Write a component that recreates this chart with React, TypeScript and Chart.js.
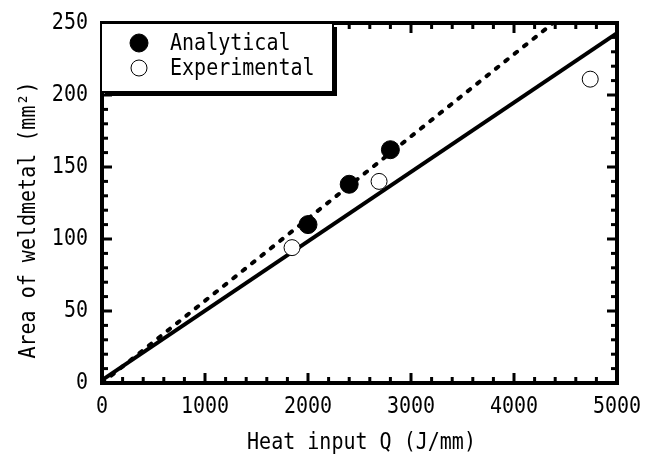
import React, { useEffect, useRef } from "react";
import { Chart, registerables } from "chart.js";
Chart.register(...registerables);

const FONT = "'DejaVu Sans Mono', 'Liberation Mono', monospace";
const SX = 0.87;

const analyticalQ = [2000, 2400, 2800];
const analyticalArea = [110, 138, 162];
const experimentalQ = [1845, 2690, 4740];
const experimentalArea = [94, 140, 211];
const analyticalFitQ = [0, 4380];
const analyticalFitArea = [0, 250];
const experimentalFitQ = [0, 5000];
const experimentalFitArea = [2, 243];
const xTickValues = [0, 1000, 2000, 3000, 4000, 5000];
const yTickValues = [0, 50, 100, 150, 200, 250];
const xMinorStep = 200;
const yMinorStep = 10;
const seriesNames = ["Analytical", "Experimental"];
const xTitle = "Heat input Q (J/mm)";
const yTitle = "Area of weldmetal (mm²)";

const W = 656;
const H = 459;

const toPts = (xs: number[], ys: number[]) => xs.map((x, i) => ({ x, y: ys[i] }));

const drawText = (
  ctx: CanvasRenderingContext2D,
  text: string,
  x: number,
  y: number,
  align: CanvasTextAlign,
  size: number,
  rotate = 0
) => {
  ctx.save();
  ctx.translate(x, y);
  if (rotate) ctx.rotate(rotate);
  ctx.scale(SX, 1);
  ctx.font = `${size}px ${FONT}`;
  ctx.fillStyle = "#000";
  ctx.textAlign = align;
  ctx.textBaseline = "middle";
  ctx.fillText(text, 0, 0);
  ctx.restore();
};

const framePlugin = {
  id: "frameTicks",
  afterDatasetsDraw(chart: any) {
    const { ctx, chartArea: a, scales } = chart;
    const xs = scales.x;
    const ys = scales.y;
    ctx.save();
    ctx.strokeStyle = "#000";
    ctx.lineCap = "butt";
    const line = (x1: number, y1: number, x2: number, y2: number) => {
      ctx.beginPath();
      ctx.moveTo(x1, y1);
      ctx.lineTo(x2, y2);
      ctx.stroke();
    };
    ctx.lineWidth = 3;
    for (let v = xs.min; v <= xs.max + 1e-6; v += xMinorStep) {
      const px = xs.getPixelForValue(v);
      const major = xTickValues.includes(Math.round(v));
      const len = major ? 10 : 6;
      line(px, a.bottom, px, a.bottom - len);
      line(px, a.top, px, a.top + len);
    }
    for (let v = ys.min; v <= ys.max + 1e-6; v += yMinorStep) {
      const py = ys.getPixelForValue(v);
      const major = yTickValues.includes(Math.round(v));
      const len = major ? 10 : 6;
      line(a.left, py, a.left + len, py);
      line(a.right, py, a.right - len, py);
    }
    ctx.lineWidth = 4;
    ctx.strokeRect(a.left, a.top, a.right - a.left, a.bottom - a.top);
    ctx.restore();

    // tick labels
    xTickValues.forEach((v) => {
      drawText(ctx, String(v), xs.getPixelForValue(v), a.bottom + 24, "center", 23);
    });
    yTickValues.forEach((v) => {
      drawText(ctx, String(v), a.left - 14, ys.getPixelForValue(v), "right", 23);
    });
  },
};

const textPlugin = {
  id: "titlesLegend",
  afterDraw(chart: any) {
    const { ctx, chartArea: a } = chart;
    // axis titles
    drawText(ctx, xTitle, (a.left + a.right) / 2 + 2, 443, "center", 23);
    drawText(ctx, yTitle, 29, 220, "center", 23, -Math.PI / 2);

    // legend
    ctx.save();
    const lx = a.left - 1;
    const ly = a.top;
    const lw = 232;
    const lh = 69;
    ctx.fillStyle = "#000";
    ctx.fillRect(lx + 4, ly + 4, lw, lh);
    ctx.fillStyle = "#fff";
    ctx.fillRect(lx, ly, lw, lh);
    ctx.strokeStyle = "#000";
    ctx.lineWidth = 2;
    ctx.strokeRect(lx, ly, lw, lh);
    const ds = chart.data.datasets;
    [0, 1].forEach((di, i) => {
      const d = ds[di];
      const cy = ly + 20 + i * 25;
      const cx = lx + 38;
      ctx.beginPath();
      ctx.arc(cx, cy, d.pointRadius, 0, Math.PI * 2);
      ctx.fillStyle = d.backgroundColor;
      ctx.fill();
      ctx.lineWidth = d.borderWidth;
      ctx.strokeStyle = d.borderColor;
      ctx.stroke();
      drawText(ctx, seriesNames[i], lx + 69, cy + 1, "left", 23);
    });
    ctx.restore();
  },
};

export default function App() {
  const ref = useRef<HTMLCanvasElement | null>(null);
  useEffect(() => {
    document.body.style.margin = "0";
    const canvas = ref.current!;
    const chart = new Chart(canvas, {
      type: "scatter",
      data: {
        datasets: [
          {
            label: seriesNames[0],
            data: toPts(analyticalQ, analyticalArea),
            pointRadius: 9,
            pointHoverRadius: 9,
            backgroundColor: "#000",
            borderColor: "#000",
            borderWidth: 1,
            showLine: false,
            order: 0,
          },
          {
            label: seriesNames[1],
            data: toPts(experimentalQ, experimentalArea),
            pointRadius: 8,
            pointHoverRadius: 8,
            backgroundColor: "#fff",
            borderColor: "#000",
            borderWidth: 1,
            showLine: false,
            order: 0,
          },
          {
            label: "Analytical fit",
            data: toPts(analyticalFitQ, analyticalFitArea),
            showLine: true,
            pointRadius: 0,
            borderColor: "#000",
            borderWidth: 4,
            borderDash: [3, 9],
            borderCapStyle: "round",
            fill: false,
            order: 1,
          },
          {
            label: "Experimental fit",
            data: toPts(experimentalFitQ, experimentalFitArea),
            showLine: true,
            pointRadius: 0,
            borderColor: "#000",
            borderWidth: 4,
            fill: false,
            order: 1,
          },
        ],
      },
      options: {
        responsive: false,
        animation: false,
        devicePixelRatio: 1,
        layout: { padding: { top: 23, right: 39, left: 0, bottom: 0 } },
        plugins: {
          legend: { display: false },
          tooltip: { enabled: false },
          title: { display: false },
        },
        scales: {
          x: {
            type: "linear",
            min: 0,
            max: 5000,
            grid: { display: false, drawTicks: false },
            border: { display: false },
            afterFit: (s: any) => {
              s.height = 76;
            },
            ticks: { display: false },
          },
          y: {
            type: "linear",
            min: 0,
            max: 250,
            grid: { display: false, drawTicks: false },
            border: { display: false },
            afterFit: (s: any) => {
              s.width = 102;
            },
            ticks: { display: false },
          },
        },
      },
      plugins: [framePlugin, textPlugin],
    });
    return () => chart.destroy();
  }, []);
  return (
    <div style={{ width: W, height: H }}>
      <canvas ref={ref} width={W} height={H} style={{ display: "block" }} />
    </div>
  );
}
